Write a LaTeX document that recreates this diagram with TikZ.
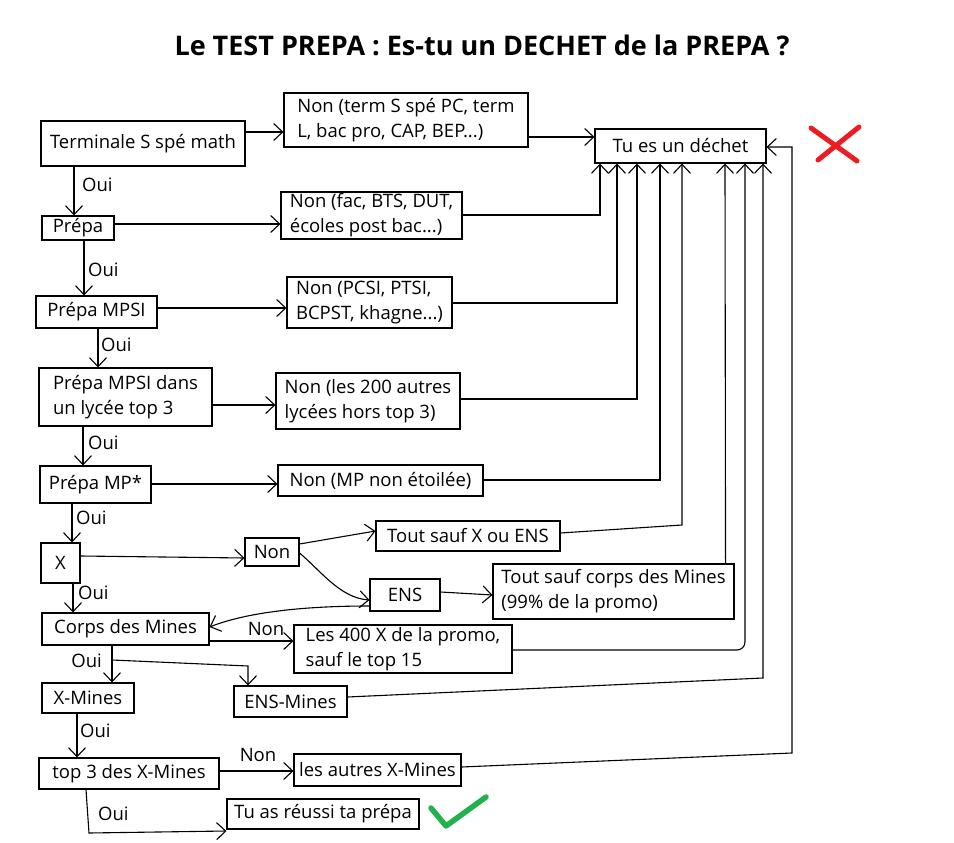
\documentclass[tikz,border=0pt]{standalone}
\usepackage{fontspec}
\setmainfont{Open Sans}
\usetikzlibrary{arrows.meta}
\definecolor{xred}{RGB}{237,28,36}
\definecolor{xgreen}{RGB}{34,177,76}
\begin{document}
\begin{tikzpicture}[x=1pt,y=-1pt,
  bx/.style={draw, line width=1.1pt, inner sep=0pt, align=left, font=\fontsize{18.5}{25}\selectfont},
  lab/.style={font=\fontsize{18.5}{25}\selectfont, inner sep=0pt},
  arr/.style={line width=1.1pt, -{Straight Barb[length=9pt,width=17pt]}},
  cross/.style={line width=5pt, color=xred, line cap=round},
  check/.style={line width=5.5pt, color=xgreen, line cap=round, line join=round}]
\useasboundingbox (0,0) rectangle (954,843);
\node[font=\bfseries\fontsize{27}{31}\selectfont, inner sep=0pt] (title) at (482,45) {Le TEST PREPA : Es-tu un DECHET de la PREPA ?};
% boxes
\node[bx, minimum width=204, minimum height=45] (term) at (143,143.5) {Terminale S spé math};
\node[bx, minimum width=244, minimum height=54] (nterm) at (406,120) {Non (term S spé PC, term\\L, bac pro, CAP, BEP...)};
\node[bx, minimum width=171, minimum height=34] (dechet) at (680.5,146) {Tu es un déchet};
\node[bx, minimum width=72, minimum height=24] (prepa) at (78,228) {Prépa};
\node[bx, minimum width=181, minimum height=47] (nfac) at (371.5,215.5) {Non (fac, BTS, DUT,\\écoles post bac...)};
\node[bx, minimum width=121, minimum height=32] (mpsi) at (96.5,312) {Prépa MPSI};
\node[bx, minimum width=165, minimum height=51] (npcsi) at (369.5,302.5) {Non (PCSI, PTSI,\\BCPST, khagne...)};
\node[bx, minimum width=173, minimum height=58] (mpsidans) at (125.5,397) {Prépa MPSI dans\\un lycée top 3};
\node[bx, minimum width=184, minimum height=56] (n200) at (368,401) {Non (les 200 autres\\lycées hors top 3)};
\node[bx, minimum width=111, minimum height=37] (mpstar) at (95.5,484.5) {Prépa MP*};
\node[bx, minimum width=205, minimum height=31] (nmp) at (380.5,480.5) {Non (MP non étoilée)};
\node[bx, minimum width=39, minimum height=40] (X) at (60.5,563) {X};
\node[bx, minimum width=54, minimum height=28] (non) at (272,552) {Non};
\node[bx, minimum width=184, minimum height=30] (toutX) at (468,536) {Tout sauf X ou ENS};
\node[bx, minimum width=70, minimum height=32] (ens) at (405,595) {ENS};
\node[bx, minimum width=241, minimum height=55] (toutcorps) at (613.5,591.5) {Tout sauf corps des Mines\\(99\% de la promo)};
\node[bx, minimum width=167, minimum height=32] (corps) at (125.5,629) {Corps des Mines};
\node[bx, minimum width=218, minimum height=48] (les400) at (403,649) {Les 400 X de la promo,\\sauf le top 15};
\node[bx, minimum width=92, minimum height=30] (xmines) at (88,698) {X-Mines};
\node[bx, minimum width=113, minimum height=31] (ensmines) at (290.5,701.5) {ENS-Mines};
\node[bx, minimum width=180, minimum height=31] (top3) at (129,773.5) {top 3 des X-Mines};
\node[bx, minimum width=167, minimum height=32] (autres) at (377.5,770) {les autres X-Mines};
\node[bx, minimum width=192, minimum height=30] (reussi) at (323,814) {Tu as réussi ta prépa};
% labels
\node[lab, anchor=west] (o1) at (82,185) {Oui};
\node[lab, anchor=west] (o2) at (88,270) {Oui};
\node[lab, anchor=west] (o3) at (101,345) {Oui};
\node[lab, anchor=west] (o4) at (88,443) {Oui};
\node[lab, anchor=west] (o5) at (76,518) {Oui};
\node[lab, anchor=west] (o6) at (78,593) {Oui};
\node[lab] (n2) at (266,629) {Non};
\node[lab, anchor=east] (o7) at (102,661) {Oui};
\node[lab, anchor=west] (o8) at (80,731) {Oui};
\node[lab] (n3) at (258,755) {Non};
\node[lab, anchor=west] (o9) at (98,814) {Oui};
% connectors
\draw[arr] (term.east |- 0,132) -- (nterm.west |- 0,132);
\draw[arr] (nterm.east |- 0,137) -- (dechet.west |- 0,137);
\draw[arr] (term.south -| 74,0) -- (prepa.north -| 74,0);
\draw[arr] (prepa.east |- 0,224) -- (nfac.west |- 0,224);
\draw[arr] (nfac.east |- 0,215) -| (dechet.south -| 600,0);
\draw[arr] (prepa.south -| 84,0) -- (mpsi.north -| 84,0);
\draw[arr] (mpsi.east |- 0,308) -- (npcsi.west |- 0,308);
\draw[arr] (npcsi.east |- 0,303) -| (dechet.south -| 617,0);
\draw[arr] (mpsi.south -| 98,0) -- (mpsidans.north -| 98,0);
\draw[arr] (mpsidans.east |- 0,405) -- (n200.west |- 0,405);
\draw[arr] (n200.east |- 0,399) -| (dechet.south -| 637,0);
\draw[arr] (mpsidans.south -| 83,0) -- (mpstar.north -| 83,0);
\draw[arr] (mpstar.east |- 0,484) -- (nmp.west |- 0,484);
\draw[arr] (nmp.east |- 0,480) -| (dechet.south -| 660,0);
\draw[arr] (mpstar.south -| 72,0) -- (X.north -| 72,0);
\draw[arr] (X.east |- 0,556) -- (non.west |- 0,558);
\draw[arr] (non.east |- 0,544) -- (toutX.west |- 0,531);
\draw[arr] (non.east |- 0,553) .. controls (320,570) and (340,598) .. (ens.west |- 0,600);
\draw[arr] (toutX.east |- 0,533) -- (682,525) -- (dechet.south -| 682,0);
\draw[arr] (ens.east |- 0,592) -- (toutcorps.west |- 0,595);
\draw[arr] ([xshift=-9pt]toutcorps.north east) -- (dechet.south -| 725,0);
\draw[arr] (X.south -| 73,0) -- (corps.north -| 73,0);
\draw[arr] (ens.west |- 0,606) .. controls (290,606) and (240,615) .. (corps.east |- 0,627);
\draw[arr] (corps.east |- 0,641) -- (les400.west |- 0,641);
\draw[arr, rounded corners=8pt] (les400.east |- 0,650) -| (dechet.south -| 745,0);
\draw[arr] (corps.south -| 112,0) -- (xmines.north -| 112,0);
\coordinate (br) at (112,660);
\draw[arr] (br) -- (248,666) -- (ensmines.north -| 248,0);
\draw[arr] (ensmines.east |- 0,697) -- (763,678) -- (dechet.south -| 763,0);
\draw[arr] (xmines.south -| 77,0) -- (top3.north -| 77,0);
\draw[arr] (top3.east |- 0,771) -- (autres.west |- 0,771);
\draw[arr] (autres.east |- 0,767) -- (792,753) -- (792,147) -- (dechet.east |- 0,147);
\draw[arr] (top3.south -| 86,0) -- (89,833) -- (reussi.west |- 0,831);
% marks
\draw[cross] (811,128) -- (857,161) (859,127) -- (818,160);
\draw[check] (431,808) -- (446,826) -- (486,797);
\end{tikzpicture}
\end{document}
